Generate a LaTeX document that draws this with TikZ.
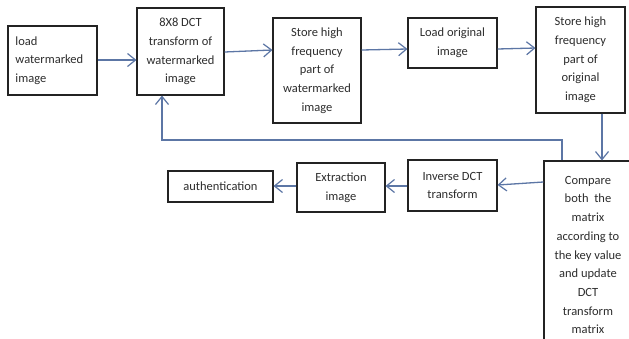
\documentclass[tikz,border=0pt]{standalone}
\usepackage{fontspec}
\setmainfont{Carlito}
\usetikzlibrary{arrows.meta}
\definecolor{arrowblue}{RGB}{92,118,165}
\definecolor{txtgray}{RGB}{45,45,45}
\definecolor{boxline}{RGB}{35,35,35}
\tikzset{
  box/.style={draw=boxline, line width=1.1pt, rectangle, inner sep=0pt, align=center,
    text=txtgray, font=\fontsize{12.5}{18.7}\selectfont},
  conn/.style={draw=arrowblue, line width=1.3pt},
  arr/.style={conn, -{Straight Barb[length=8pt,width=13pt,line width=1.2pt]}}
}
\begin{document}
\begin{tikzpicture}[x=1pt,y=-1pt]
\clip (0,0) rectangle (629,338);
\fill[white] (0,0) rectangle (629,338);
\node[box, minimum width=89pt, minimum height=69pt, text width=74pt, align=left] (b1) at (52.5,60.5) {load\\watermarked\\image};
\node[box, minimum width=87pt, minimum height=87pt] (b2) at (180.5,51.5) {8X8 DCT\\transform of\\watermarked\\image};
\node[box, minimum width=88pt, minimum height=105pt] (b3) at (317,70.5) {Store high\\frequency\\part of\\watermarked\\image};
\node[box, minimum width=89pt, minimum height=50pt] (b4) at (452.5,43) {Load original\\image};
\node[box, minimum width=89pt, minimum height=106pt] (b5) at (580.5,60) {Store high\\frequency\\part of\\original\\image};
\node[box, minimum width=88pt, minimum height=188pt] (cmp) at (588,255) {Compare\\both\ \ the\\matrix\\according to\\the key value\\and update\\DCT\\transform\\matrix};
\node[box, minimum width=89pt, minimum height=51pt] (inv) at (452.5,185.5) {Inverse DCT\\transform};
\node[box, minimum width=88pt, minimum height=49pt] (ext) at (341,187.5) {Extraction\\image};
\node[box, minimum width=105pt, minimum height=31pt] (auth) at (220.5,186.5) {authentication};
\coordinate (fbA) at (562,140);
\coordinate (fbB) at (162,140);
\draw[arr] (b1.east |- 0,60) -- (b2.west |- 0,60);
\draw[arr] (b2.east |- 0,52) -- (b3.west |- 0,50);
\draw[arr] (b3.east |- 0,50) -- (b4.west |- 0,49);
\draw[arr] (b4.east |- 0,49) -- (b5.west |- 0,48);
\draw[arr] (b5.south -| 602,0) -- (cmp.north -| 602,0);
\draw[arr] (cmp.north -| fbA) -- (fbA) -- (fbB) -- (b2.south -| fbB);
\draw[arr] (cmp.west |- 0,182) -- (inv.east |- 0,185);
\draw[arr] (inv.west |- 0,186) -- (ext.east |- 0,186);
\draw[arr] (ext.west |- 0,186) -- (auth.east |- 0,186);
\end{tikzpicture}
\end{document}
